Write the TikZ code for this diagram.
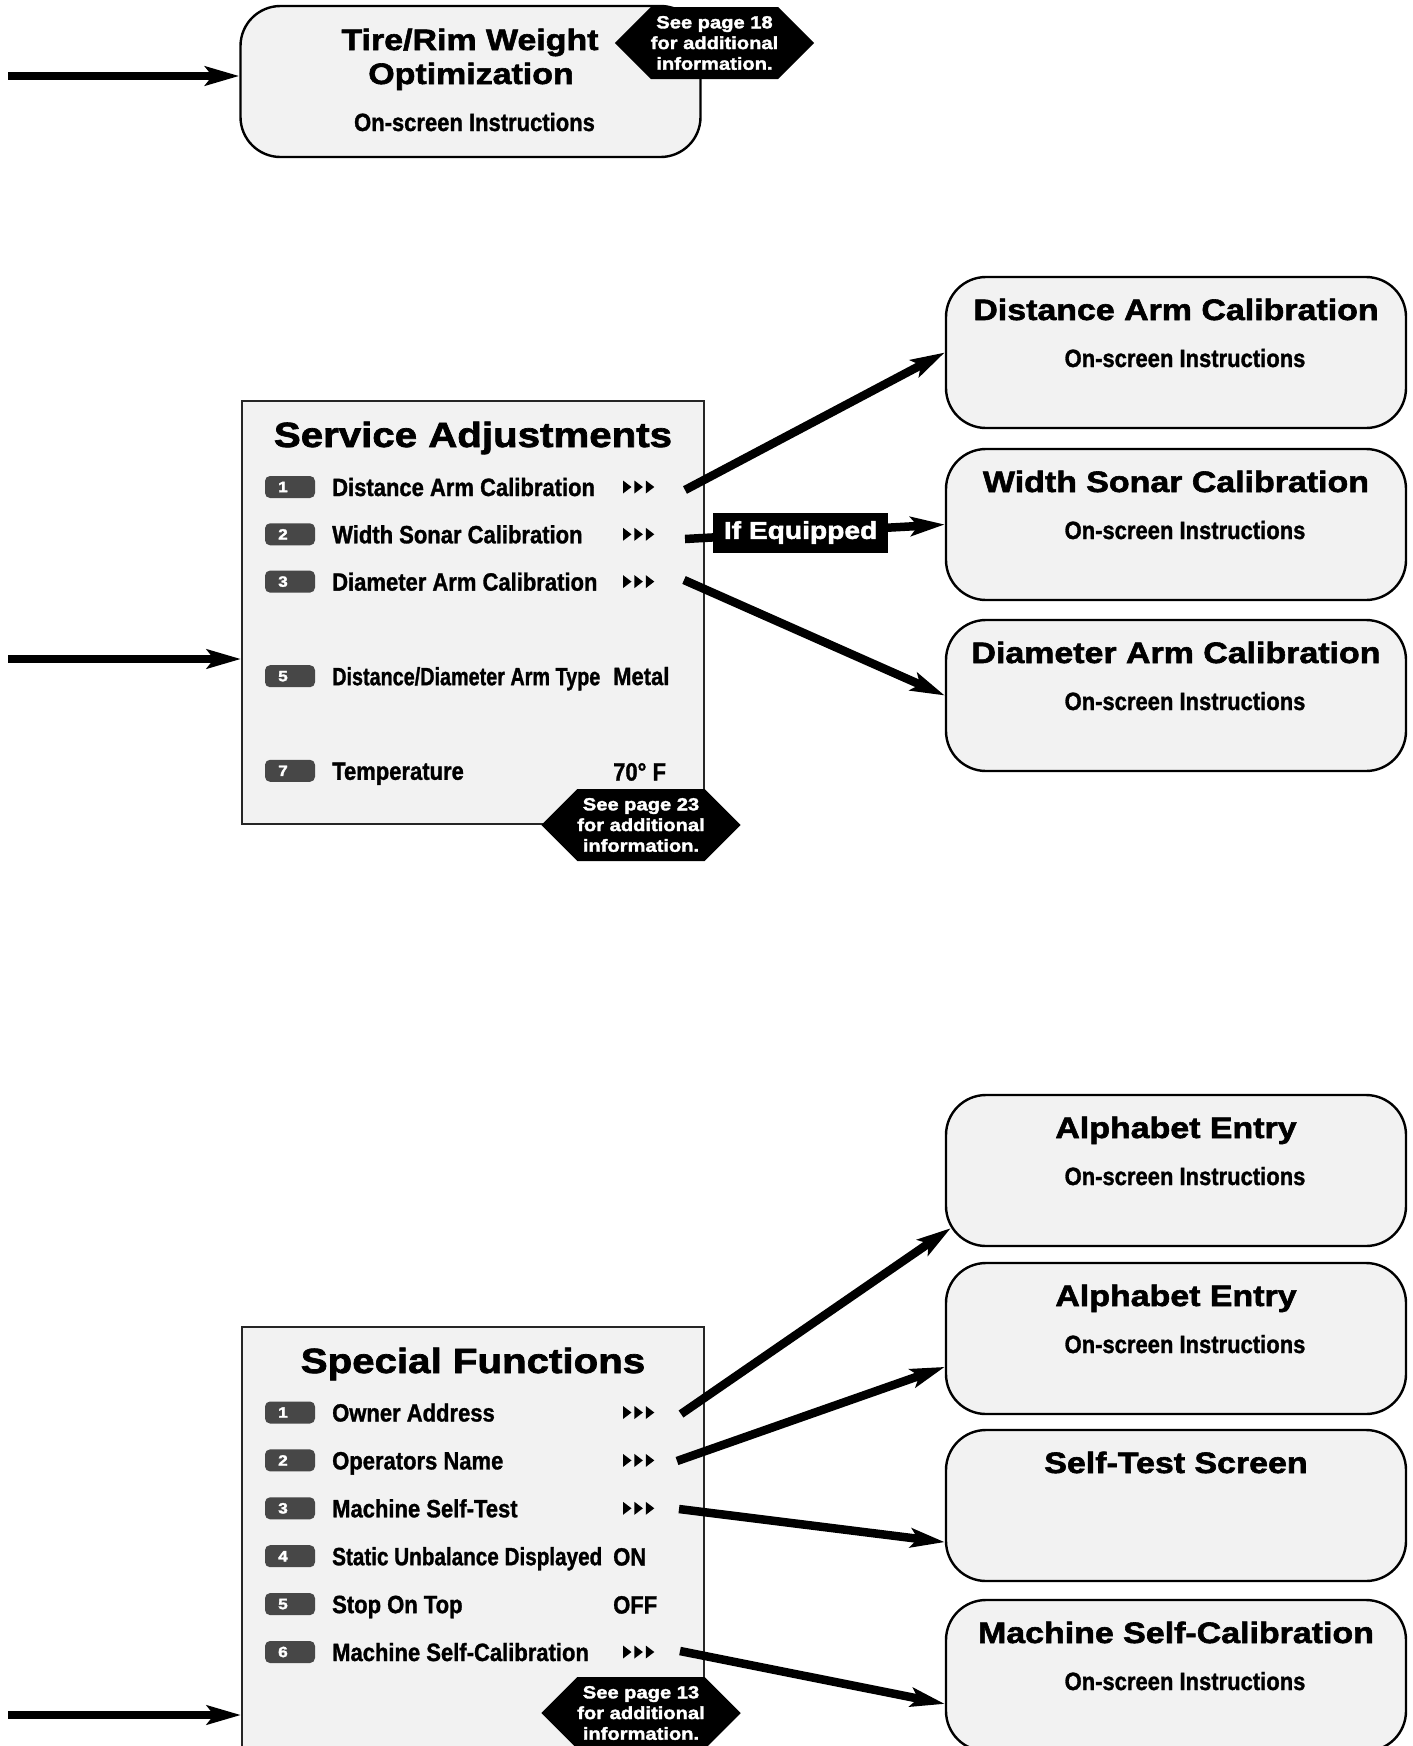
\documentclass[tikz,border=0pt]{standalone}
\usepackage{fontspec}
\usepackage{graphicx}
\setmainfont{Liberation Sans}
\newfontfamily\heavyfont[FakeStretch=1.15,BoldFeatures={FakeBold=2}]{Liberation Sans}
\newfontfamily\narrowfont[FakeStretch=0.88,BoldFeatures={FakeBold=1.2}]{Liberation Sans}
\usetikzlibrary{arrows.meta}
\usetikzlibrary{shapes.symbols}

\definecolor{boxgrey}{HTML}{F2F2F2}
\definecolor{badgegrey}{HTML}{474747}

\tikzset{
  screen/.style={draw=black, line width=2.4pt, fill=boxgrey, rounded corners=40pt,
    minimum width=460pt, minimum height=151pt, inner sep=0pt},
  menu/.style={draw=black!85, line width=2pt, fill=boxgrey, inner sep=0pt},
  menutitle/.style={anchor=base, inner sep=0pt, font=\heavyfont\bfseries\fontsize{35}{36}\selectfont},
  boxtitle/.style={anchor=base, inner sep=0pt, font=\heavyfont\bfseries\fontsize{29.5}{30}\selectfont},
  instr/.style={anchor=base, inner sep=0pt, font=\narrowfont\bfseries\fontsize{25}{25}\selectfont},
  item/.style={anchor=base west, inner sep=0pt, font=\narrowfont\bfseries\fontsize{25}{25}\selectfont},
  badge/.style={fill=badgegrey, rounded corners=5pt, minimum width=50pt, minimum height=22pt, inner sep=0pt},
  num/.style={text=white, inner sep=0pt, font=\heavyfont\bfseries\fontsize{15}{15}\selectfont},
  note/.style={signal, signal to=east and west, signal pointer angle=90, fill=black, text=white,
    minimum width=192pt, minimum height=72pt, inner sep=0pt, align=center,
    font=\heavyfont\bfseries\fontsize{17.5}{20.7}\selectfont},
  tag/.style={fill=black, text=white, minimum width=175pt, minimum height=40pt, inner sep=0pt,
    font=\heavyfont\bfseries\fontsize{24.5}{25}\selectfont},
  flow/.style={line width=8.5pt, -{Stealth[length=34pt,width=19pt,inset=7pt]}}
}

\begin{document}
\begin{tikzpicture}[x=1pt, y=-1pt]
  \useasboundingbox (0,0) rectangle (1413,1746);
  \clip (0,0) rectangle (1413,1746);

  % Tire/Rim screen
  \node[screen] (trw) at (470.5,81.5) {};
  \node[boxtitle] (trw-t1) at (470,50) {Tire/Rim Weight};
  \node[boxtitle] (trw-t2) at (471,84) {Optimization};
  \node[instr] (trw-i) at (474.5,131) {On-screen Instructions};
  \node[note] (trw-note) at (714.5,43) {See page 18\\for additional\\information.};
  \coordinate (in1) at (8,76);
  \draw[flow] (in1) -- (in1 -| trw.west);

  % Service Adjustments menu
  \node[menu, minimum width=462pt, minimum height=423pt] (sa) at (473,612.5) {};
  \node[menutitle] (sa-t) at (473,447) {Service Adjustments};
  \foreach \n/\txt in {1/Distance Arm Calibration, 2/Width Sonar Calibration,
      3/Diameter Arm Calibration, 5/{\scalebox{0.9}[1]{Distance/Diameter Arm Type}}, 7/Temperature} {
    \node[badge] (sa-b\n) at (290,{487+(\n-1)*47.3}) {};
    \node[num] (sa-n\n) at (283,{487+(\n-1)*47.3}) {\n};
    \node[item] (sa-\n) at (332,{496+(\n-1)*47.3}) {\txt};
  }
  \foreach \n in {1,2,3} {
    \foreach \k in {0,1,2}
      \fill ({623+11.4*\k},{480.5+(\n-1)*47.3}) -- ++(8.5,6.5) -- ++(-8.5,6.5) -- cycle;
  }
  \node[item] (sa-v5) at (613,685) {Metal};
  \node[item] (sa-v7) at (613,780.5) {70° F};
  \node[note] (sa-note) at (641,825) {See page 23\\for additional\\information.};
  \coordinate (in2) at (8,659);
  \draw[flow] (in2) -- (in2 -| sa.west);

  % Calibration screens
  \foreach \name/\yy/\ttl in {dac/277/Distance Arm Calibration, wsc/449/Width Sonar Calibration,
      dmc/620/Diameter Arm Calibration} {
    \node[screen] (\name) at (1176,{\yy+75.5}) {};
    \node[boxtitle] (\name-t) at (1176,{\yy+43}) {\ttl};
    \node[instr] (\name-i) at (1185,{\yy+90}) {On-screen Instructions};
  }
  \coordinate (sa-o1) at (685,490);
  \coordinate (sa-o2) at (685,539);
  \coordinate (sa-o3) at (684,580);
  \draw[flow] (sa-o1) -- (dac.west);
  \draw[flow] (sa-o2) -- (wsc.west) node[tag, pos=0.445] (ifeq) {If Equipped};
  \draw[flow] (sa-o3) -- (dmc.west);

  % Special Functions menu
  \node[menu, minimum width=462pt, minimum height=480pt, anchor=north] (sf) at (473,1326) {};
  \node[menutitle] (sf-t) at (473,1373) {Special Functions};
  \foreach \n/\txt in {1/Owner Address, 2/Operators Name, 3/Machine Self-Test,
      4/{\scalebox{0.94}[1]{Static Unbalance Displayed}}, 5/Stop On Top, 6/Machine Self-Calibration} {
    \node[badge] (sf-b\n) at (290,{1412.5+(\n-1)*47.9}) {};
    \node[num] (sf-n\n) at (283,{1412.5+(\n-1)*47.9}) {\n};
    \node[item] (sf-\n) at (332,{1421.5+(\n-1)*47.9}) {\txt};
  }
  \foreach \n in {1,2,3,6} {
    \foreach \k in {0,1,2}
      \fill ({623+11.4*\k},{1406+(\n-1)*47.9}) -- ++(8.5,6.5) -- ++(-8.5,6.5) -- cycle;
  }
  \node[item] (sf-v4) at (613,1565.5) {ON};
  \node[item] (sf-v5) at (613,1613.5) {OFF};
  \node[note] (sf-note) at (641,1713) {See page 13\\for additional\\information.};
  \coordinate (in3) at (8,1715);
  \draw[flow] (in3) -- (in3 -| sf.west);

  % Entry and test screens
  \foreach \name/\yy/\ttl in {ae1/1095/Alphabet Entry, ae2/1263/Alphabet Entry,
      msc/1600/Machine Self-Calibration} {
    \node[screen] (\name) at (1176,{\yy+75.5}) {};
    \node[boxtitle] (\name-t) at (1176,{\yy+43}) {\ttl};
    \node[instr] (\name-i) at (1185,{\yy+90}) {On-screen Instructions};
  }
  \node[screen] (st) at (1176,1505.5) {};
  \node[boxtitle] (st-t) at (1176,1473) {Self-Test Screen};
  \coordinate (sf-o1) at (681,1414);
  \coordinate (sf-o2) at (677,1461);
  \coordinate (sf-o3) at (679,1509);
  \coordinate (sf-o6) at (680,1651);
  \draw[flow] (sf-o1) -- ([xshift=6pt]ae1.194);
  \draw[flow] (sf-o2) -- (ae2.187);
  \draw[flow] (sf-o3) -- (st.189);
  \draw[flow] (sf-o6) -- (msc.187);
\end{tikzpicture}
\end{document}
